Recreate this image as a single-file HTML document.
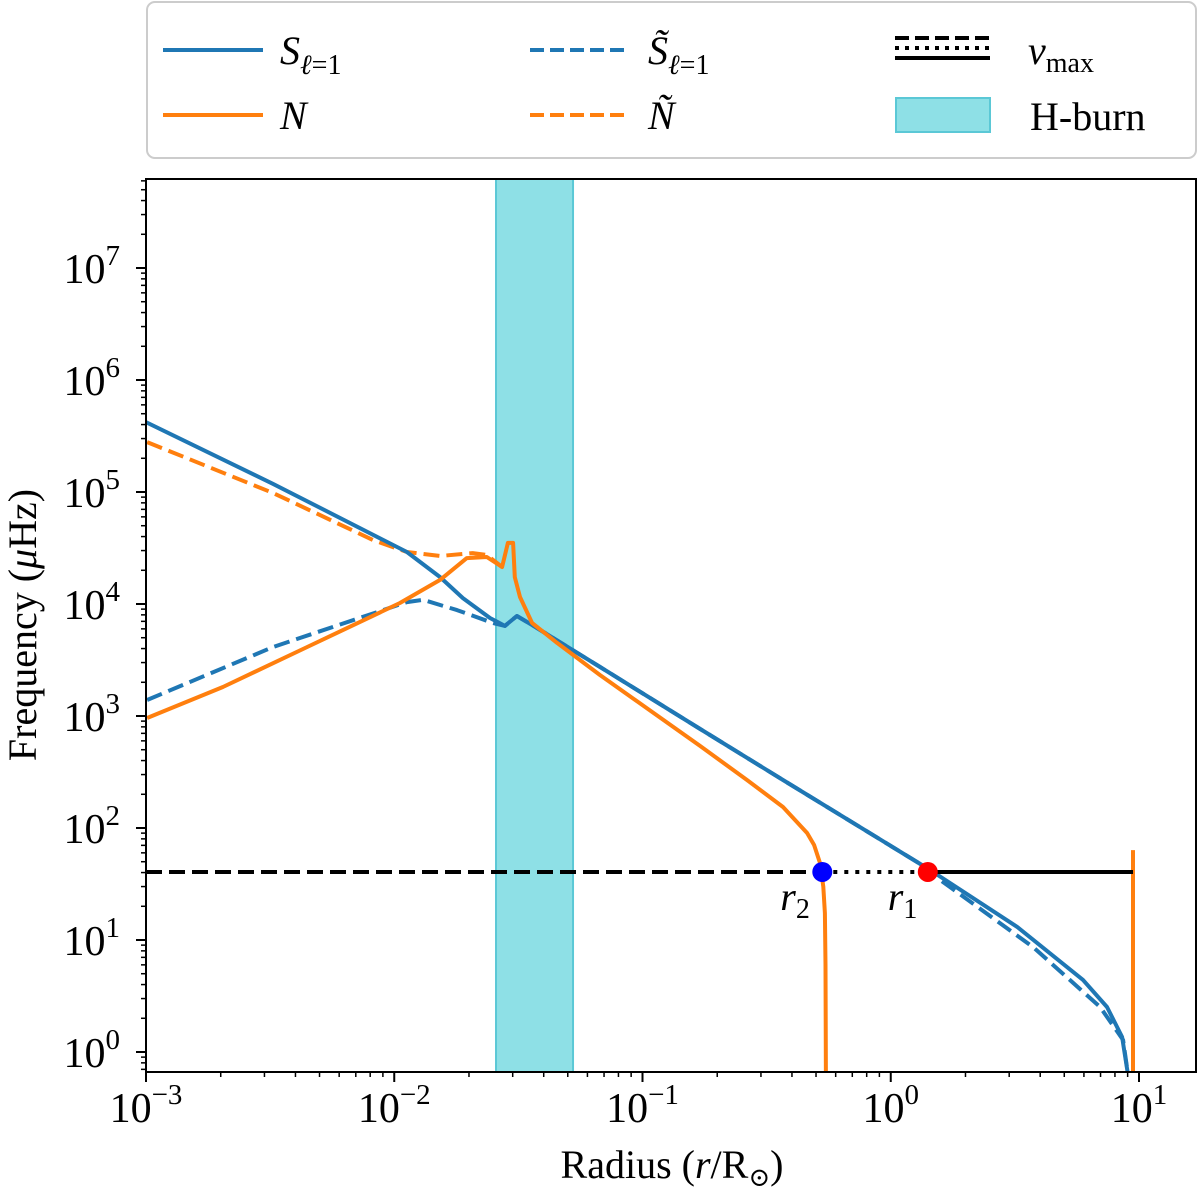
<!DOCTYPE html>
<html><head><meta charset="utf-8"><style>
body{margin:0;background:#fff;}
svg{display:block;font-family:"Liberation Serif","DejaVu Serif",serif;}
</style></head><body>
<svg id="chart" width="1200" height="1197" viewBox="0 0 1200 1197" xmlns="http://www.w3.org/2000/svg">
<defs><clipPath id="pc"><rect x="146" y="179" width="1050" height="893"/></clipPath></defs>
<g id="legend">
<rect x="147" y="2" width="1049" height="156" rx="8" fill="#fff" stroke="#cccccc" stroke-width="2"/>
<line x1="163" y1="50" x2="263" y2="50" stroke="#1f77b4" stroke-width="4"/>
<text x="280" y="64" font-size="40" font-style="italic">S<tspan font-size="28" dy="10">ℓ</tspan><tspan font-size="28" font-style="normal">=1</tspan></text>
<line x1="163" y1="115" x2="263" y2="115" stroke="#ff7f0e" stroke-width="4"/>
<text x="280" y="129" font-size="40" font-style="italic">N</text>
<line x1="530" y1="50" x2="628" y2="50" stroke="#1f77b4" stroke-width="4" stroke-dasharray="14,6"/>
<text x="648" y="64" font-size="40" font-style="italic">S̃<tspan font-size="28" dy="10">ℓ</tspan><tspan font-size="28" font-style="normal">=1</tspan></text>
<line x1="530" y1="115" x2="628" y2="115" stroke="#ff7f0e" stroke-width="4" stroke-dasharray="14,6"/>
<text x="648" y="129" font-size="40" font-style="italic">Ñ</text>
<line x1="895" y1="38" x2="990" y2="38" stroke="#000" stroke-width="4" stroke-dasharray="14,6"/>
<line x1="895" y1="48" x2="990" y2="48" stroke="#000" stroke-width="4" stroke-dasharray="4,6"/>
<line x1="895" y1="58" x2="990" y2="58" stroke="#000" stroke-width="4"/>
<text x="1028" y="64" font-size="40" font-style="italic">ν<tspan font-size="28" font-style="normal" dy="8">max</tspan></text>
<rect x="896" y="98" width="94" height="34" fill="#8ee0e6" stroke="#5bc8d6" stroke-width="2"/>
<text x="1030" y="130" font-size="40">H-burn</text>
</g>
<g id="plot"></g>
</svg>
<script>
// data (radius in R_sun, frequency in µHz)
const S_r = [0.001,0.00325,0.01125,0.0153,0.0189,0.0243,0.0279,0.0312,0.0359,0.0675,0.1707,0.368,1.44,3.23,5.95,7.43,8.55,9.04];
const S_f = [4.2e5,1.18e5,2.91e4,1.74e4,1.13e4,7500,6370,7810,6500,2740,766,268,42.2,13.1,4.4,2.52,1.36,0.62];
const St_r = [0.00101,0.00325,0.01125,0.01305,0.0179,0.025,0.0279,0.0312,0.0359,0.0675,0.1707,0.368,1.44,1.58,3.74,6.97,8.63,9.04];
const St_f = [1390,4130,10400,10900,8830,6770,6370,7810,6500,2740,766,268,42.2,34.4,8.66,2.52,1.28,0.62];
const N_r = [0.00101,0.00204,0.00446,0.01054,0.0153,0.0196,0.0236,0.0272,0.0287,0.0301,0.0306,0.0321,0.0359,0.0453,0.0675,0.1707,0.2636,0.368,0.4603,0.491,0.519,0.535,0.543,0.546,0.548];
const N_f = [960,1815,4130,10200,16400,25700,26300,21400,35100,35100,17400,11550,6770,4490,2320,540,268,154,90.2,70.5,48.7,30,17.4,6,0.6];
const N2_r = [9.46,9.46];
const N2_f = [63.5,0.6];
const Nt_r = [0.00101,0.00325,0.0082,0.01125,0.0153,0.0207,0.0236,0.0272];
const Nt_f = [2.79e5,9.8e4,3.73e4,2.91e4,26800,28500,27400,21400];
const numax = 40.5;
const r2 = 0.53, r1 = 1.41;
const hburn = [0.0257,0.0525];
const xTickExp = [-3,-2,-1,0,1];
const yTickExp = [0,1,2,3,4,5,6,7];

const X0=146,X1=1196,Y0=179,Y1=1072;
const xs = v => X0 + (Math.log10(v)+3)*248.25;
const ys = v => 1052 - Math.log10(v)*112;
const NS="http://www.w3.org/2000/svg";
const plot=document.getElementById('plot');
function mk(tag,attrs,parent){const e=document.createElementNS(NS,tag);for(const k in attrs)e.setAttribute(k,attrs[k]);(parent||plot).appendChild(e);return e;}
const clipG=mk('g',{'clip-path':'url(#pc)'});


const hb=mk('rect',{x:xs(hburn[0]),y:Y0,width:xs(hburn[1])-xs(hburn[0]),height:Y1-Y0,fill:'#8ee0e6',stroke:'#5bc8d6','stroke-width':2},clipG);


function line(rr,ff,color,dash,name){
  const d=rr.map((r,i)=>(i?'L':'M')+xs(r).toFixed(1)+','+ys(ff[i]).toFixed(1)).join('');
  const p=mk('path',{d:d,fill:'none',stroke:color,'stroke-width':4,'stroke-linejoin':'round'},clipG);
  if(dash)p.setAttribute('stroke-dasharray',dash);
  
  
}
line(St_r,St_f,'#1f77b4','16,7','s-tilde-line');
line(Nt_r,Nt_f,'#ff7f0e','16,7','n-tilde-line');
line(S_r,S_f,'#1f77b4',null,'s-line');
line(N_r,N_f,'#ff7f0e',null,'n-line');
line(N2_r,N2_f,'#ff7f0e',null,'n-outer-line');
const yn=ys(numax);
const l1=mk('line',{x1:X0,y1:yn,x2:xs(r2),y2:yn,stroke:'#000','stroke-width':4,'stroke-dasharray':'16,7'},clipG);


const l2=mk('line',{x1:xs(r2),y1:yn,x2:xs(r1),y2:yn,stroke:'#000','stroke-width':4,'stroke-dasharray':'4,7'},clipG);


const l3=mk('line',{x1:xs(r1),y1:yn,x2:xs(N2_r[0]),y2:yn,stroke:'#000','stroke-width':4},clipG);


const c2=mk('circle',{cx:xs(r2),cy:yn,r:10,fill:'#0000ff'},clipG);


const c1=mk('circle',{cx:xs(r1),cy:yn,r:10,fill:'#ff0000'},clipG);


const t2=mk('text',{x:xs(r2)-42,y:yn+38,'font-size':40,'font-style':'italic'});
t2.innerHTML='r<tspan font-size="28" font-style="normal" dy="8">2</tspan>';


const t1=mk('text',{x:xs(r1)-40,y:yn+38,'font-size':40,'font-style':'italic'});
t1.innerHTML='r<tspan font-size="28" font-style="normal" dy="8">1</tspan>';


// frame
const fr=mk('rect',{x:X0,y:Y0,width:X1-X0,height:Y1-Y0,fill:'none',stroke:'#000','stroke-width':2});


// ticks
for(const e of xTickExp){
  for(let m=1;m<10;m++){
    const v=m*Math.pow(10,e), x=xs(v);
    if(x<X0-0.5||x>X1)continue;
    mk('line',{x1:x,y1:Y1,x2:x,y2:Y1+(m==1?10:5),stroke:'#000','stroke-width':m==1?2:1.5});
  }
  const t=mk('text',{x:xs(Math.pow(10,e)),y:Y1+50,'font-size':42,'text-anchor':'middle'});
  t.innerHTML='10<tspan font-size="29" dy="-18">'+(e<0?'−'+(-e):e)+'</tspan>';
  
  
}
for(let e=-1;e<=7;e++){
  for(let m=1;m<10;m++){
    const v=m*Math.pow(10,e), y=ys(v);
    if(y<Y0||y>Y1)continue;
    mk('line',{x1:X0,y1:y,x2:X0-(m==1?10:5),y2:y,stroke:'#000','stroke-width':m==1?2:1.5});
  }
}
for(const e of yTickExp){
  const t=mk('text',{x:120,y:ys(Math.pow(10,e))+15,'font-size':42,'text-anchor':'end'});
  t.innerHTML='10<tspan font-size="29" dy="-18">'+e+'</tspan>';
  
  
}
const xl=mk('text',{x:672,y:1178,'font-size':40,'text-anchor':'middle'});
xl.innerHTML='Radius (<tspan font-style="italic">r</tspan>/R<tspan font-size="26" dy="8">⊙</tspan><tspan dy="-8">)</tspan>';


const yl=mk('text',{x:0,y:0,'font-size':40,'text-anchor':'middle',transform:'translate(36,625) rotate(-90)'});
yl.innerHTML='Frequency (<tspan font-style="italic">μ</tspan>Hz)';


</script>
</body></html>
